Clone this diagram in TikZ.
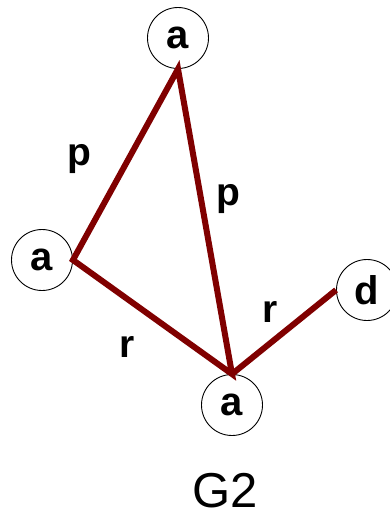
\documentclass[tikz,border=0pt]{standalone}
\usepackage{fontspec}
\setmainfont{Liberation Sans}
\usepackage{tikz}
\usetikzlibrary{positioning}
\definecolor{edgered}{RGB}{128,0,0}

\begin{document}
\begin{tikzpicture}[
  x=1pt, y=-1pt,
  vert/.style={circle, draw=black, line width=0.9pt, fill=white, inner sep=0pt,
               minimum size=61pt, font=\fontsize{40}{44}\selectfont\bfseries},
  edge/.style={draw=edgered, line width=6pt, line join=miter},
  lbl/.style={anchor=base, inner sep=0pt, font=\fontsize{39}{42}\selectfont\bfseries},
]
  \useasboundingbox (0,0) rectangle (390,523);

  % vertices
  \node[vert] (atop) at (178,38) {a};
  \node[vert] (aleft) at (42,260) {a};
  \node[vert] (abot) at (232,405) {a};
  \node[vert] (dright) at (367,290) {d};

  % edges
  \draw[edge] (atop.south) -- (aleft.east) -- (abot.north) -- cycle;
  \draw[edge] (abot.north) -- (dright.west);

  % edge labels
  \node[lbl] (pleft) at (79,165) {p};
  \node[lbl] (pmid) at (228,205) {p};
  \node[lbl] (rleft) at (127,357) {r};
  \node[lbl] (rright) at (270,322) {r};

  \node[anchor=base, font=\fontsize{49}{52}\selectfont] (title) at (225,507) {G2};
\end{tikzpicture}
\end{document}
